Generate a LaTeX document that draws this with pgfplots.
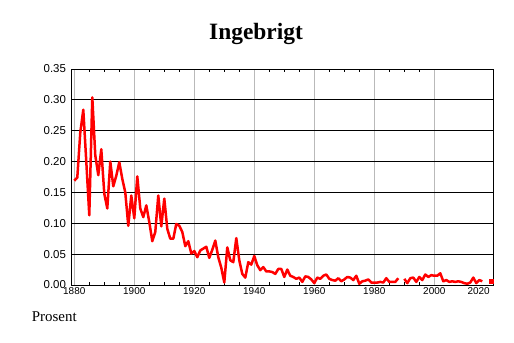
\documentclass[border=0pt]{standalone}
\usepackage{pgfplots}
\pgfplotsset{compat=1.18}
\usepackage{fontspec}
\setmainfont{Liberation Serif}
\newfontfamily\sansf{Liberation Sans}
\begin{document}
\begin{tikzpicture}
\useasboundingbox (0,0) rectangle (514bp,343bp);
\begin{axis}[
  at={(71.5bp,58bp)}, anchor=south west,
  scale only axis, width=421.8bp, height=216bp,
  xmin=1879.07, xmax=2019.67, ymin=0, ymax=0.35,
  xtick={1880,1900,1920,1940,1960,1980,2000},
  extra x ticks={2019.67}, extra x tick labels={2020},
  extra x tick style={xticklabel style={anchor=north east}, major tick length=0pt, grid=none},
  minor x tick num=3,
  ytick={0,0.05,...,0.36},
  /pgf/number format/assume math mode=true,
  xticklabel style={font=\sansf\fontsize{10}{12}\selectfont, /pgf/number format/1000 sep={}, yshift=1bp},
  yticklabel style={font=\sansf\fontsize{11.5}{13}\selectfont, xshift=-2bp, /pgf/number format/fixed, /pgf/number format/fixed zerofill, /pgf/number format/precision=2},
  xmajorgrids, ymajorgrids,
  x grid style={gray!55, line width=0.8bp},
  y grid style={black, line width=0.8bp},
  axis line style={black, line width=0.8bp},
  tick style={black, line width=0.6bp},
  major tick length=0pt, minor tick length=3bp,
  tick align=inside,
  ytick style={draw=none},
  unbounded coords=jump,
  clip=false,
]
\addplot[red, line width=2.5bp, line join=round] table[x=year, y=val] {
year val
1880 0.169
1881 0.174
1882 0.247
1883 0.284
1884 0.200
1885 0.113
1886 0.304
1887 0.210
1888 0.178
1889 0.220
1890 0.148
1891 0.124
1892 0.200
1893 0.160
1894 0.177
1895 0.199
1896 0.172
1897 0.150
1898 0.096
1899 0.145
1900 0.108
1901 0.176
1902 0.124
1903 0.110
1904 0.129
1905 0.102
1906 0.071
1907 0.086
1908 0.145
1909 0.095
1910 0.140
1911 0.091
1912 0.075
1913 0.075
1914 0.099
1915 0.096
1916 0.086
1917 0.063
1918 0.071
1919 0.051
1920 0.055
1921 0.045
1922 0.056
1923 0.059
1924 0.062
1925 0.044
1926 0.057
1927 0.072
1928 0.045
1929 0.028
1930 0.004
1931 0.061
1932 0.040
1933 0.037
1934 0.076
1935 0.040
1936 0.018
1937 0.012
1938 0.037
1939 0.033
1940 0.047
1941 0.032
1942 0.024
1943 0.029
1944 0.022
1945 0.022
1946 0.021
1947 0.018
1948 0.026
1949 0.026
1950 0.013
1951 0.025
1952 0.015
1953 0.013
1954 0.010
1955 0.012
1956 0.005
1957 0.014
1958 0.013
1959 0.009
1960 0.003
1961 0.012
1962 0.010
1963 0.015
1964 0.017
1965 0.010
1966 0.008
1967 0.007
1968 0.011
1969 0.006
1970 0.009
1971 0.013
1972 0.012
1973 0.008
1974 0.015
1975 0.002
1976 0.006
1977 0.007
1978 0.009
1979 0.004
1980 0.004
1981 0.004
1982 0.005
1983 0.004
1984 0.011
1985 0.005
1986 0.005
1987 0.005
1988 0.011
1989 nan
1990 0.010
1991 0.003
1992 0.011
1993 0.012
1994 0.005
1995 0.013
1996 0.008
1997 0.017
1998 0.013
1999 0.016
2000 0.015
2001 0.015
2002 0.019
2003 0.006
2004 0.008
2005 0.005
2006 0.006
2007 0.005
2008 0.006
2009 0.005
2010 0.003
2011 0.002
2012 0.004
2013 0.012
2014 0.003
2015 0.008
2016 0.006
2017 nan
2018 nan
};
\addplot[red, only marks, mark=square*, mark size=1.6bp] coordinates {(2019,0.006)};
\end{axis}
\node[font=\bfseries\fontsize{23.5}{28}\selectfont, anchor=base] at (256bp,303bp) {Ingebrigt};
\node[font=\fontsize{15}{18}\selectfont, anchor=base west, inner sep=0pt] at (31.7bp,22bp) {Prosent};
\end{tikzpicture}
\end{document}
